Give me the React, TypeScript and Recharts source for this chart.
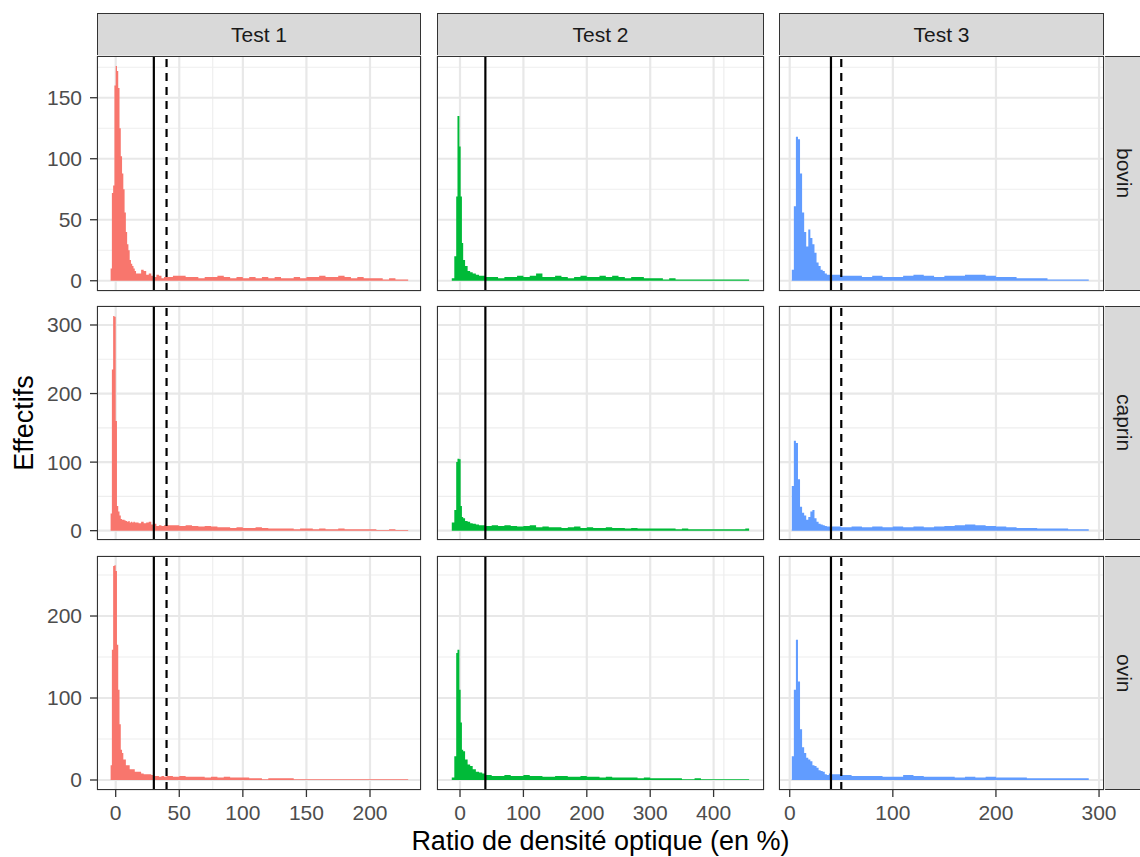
import React from "react";
import {
  ComposedChart,
  Area,
  XAxis,
  YAxis,
  CartesianGrid,
  ReferenceLine,
} from "recharts";

// facettes
const tests = ["Test 1", "Test 2", "Test 3"];
const especes = ["bovin", "caprin", "ovin"];
const couleurs = ["#F8766D", "#00BA38", "#619CFF"];

// bornes des classes de l'histogramme, une liste par test
const bornesTest1 = [
  -4, -3, -2, -1, 0, 1, 2, 3, 4, 5, 6, 7, 8, 9, 10, 11, 12, 13, 14, 15, 16,
  18, 20, 22, 24, 26, 28, 30, 32, 34, 36, 38, 40,
  45, 50, 55, 60, 65, 70, 75, 80, 85, 90, 95, 100, 105, 110, 115, 120, 125,
  130, 135, 140, 145, 150, 155, 160, 165, 170, 175, 180, 185, 190, 195, 200,
  205, 210, 215, 220, 225, 230,
];
const bornesTest2 = [
  -13, -9, -6, -4, -1, 1, 3, 5, 8, 12, 16, 20, 25, 30, 35, 40,
  50, 60, 70, 80, 90, 100, 110, 120, 130, 140, 150, 160, 170, 180, 190, 200,
  210, 220, 230, 240, 250, 260, 270, 280, 290, 300, 310, 320, 330, 340, 350,
  360, 370, 380, 390, 400, 410, 420, 430, 440, 450, 456,
];
const bornesTest3 = [
  2, 4, 6, 8, 10, 12, 14, 16, 18, 20, 22, 24, 26, 28, 30, 32, 34, 36, 38, 40,
  50, 60, 70, 80, 90, 100, 110, 120, 130, 140, 150, 160, 170, 180, 190, 200,
  210, 220, 230, 240, 250, 260, 270, 280, 290,
];

// effectifs par classe
const test1Bovin = [
  10, 72, 78, 160, 176, 172, 158, 125, 102, 88, 75, 56, 40, 30, 25, 17, 14, 12, 10, 8,
  6, 6, 9, 8, 5, 6, 4, 3, 5, 4, 2, 3,
  3, 4, 4, 3, 3, 2, 3, 3, 4, 3, 2, 3, 2, 3, 2, 3, 2, 3, 2, 2,
  3, 2, 3, 3, 4, 3, 3, 4, 3, 2, 3, 2, 2, 2, 1, 2, 1, 1,
];
const test1Caprin = [
  25, 235, 313, 312, 160, 36, 28, 22, 17, 16, 16, 15, 14, 13, 14, 12, 13, 12, 13, 12,
  12, 11, 13, 11, 12, 13, 9, 10, 7, 8, 7, 8,
  8, 8, 7, 8, 7, 6, 7, 6, 5, 5, 4, 5, 4, 4, 5, 4, 3, 3, 3, 3,
  2, 3, 3, 2, 3, 2, 2, 3, 2, 2, 2, 2, 2, 1, 1, 2, 1, 1,
];
const test1Ovin = [
  18, 159, 261, 262, 255, 165, 110, 68, 37, 33, 25, 25, 18, 18, 18, 13, 13, 13, 13, 10,
  10, 10, 8, 7, 7, 7, 6, 5, 5, 4, 5, 4,
  5, 4, 5, 4, 4, 4, 3, 4, 3, 4, 3, 3, 3, 2, 2, 1, 2, 2, 2, 2,
  1, 1, 1, 1, 1, 1, 1, 1, 1, 1, 1, 1, 1, 1, 1, 1, 1, 1,
];
const test2Bovin = [
  2, 20, 69, 135, 110, 69, 31, 17, 12, 8, 7, 6, 5, 4, 4,
  3, 3, 2, 3, 3, 4, 3, 4, 6, 3, 3, 4, 3, 2, 3, 4, 3, 3, 4, 3, 4,
  3, 2, 3, 3, 2, 2, 2, 1, 2, 1, 1, 1, 1, 1, 1, 1, 1, 1, 1, 1, 1,
];
const test2Caprin = [
  12, 30, 100, 105, 104, 36, 20, 18, 14, 13, 11, 10, 9, 8, 8,
  7, 8, 7, 8, 7, 6, 7, 8, 5, 6, 5, 5, 4, 5, 6, 4, 5, 4, 4, 5, 4,
  4, 3, 4, 3, 3, 3, 3, 3, 3, 2, 3, 2, 2, 2, 2, 2, 2, 2, 2, 2, 3,
];
const test2Ovin = [
  3, 29, 155, 159, 110, 70, 37, 35, 25, 19, 17, 13, 10, 9, 8,
  6, 5, 5, 6, 5, 5, 6, 5, 5, 4, 4, 5, 5, 4, 4, 5, 4, 4, 3, 4, 3,
  3, 3, 3, 2, 3, 2, 2, 2, 2, 2, 1, 1, 2, 1, 1, 1, 1, 1, 1, 1, 1,
];
const test3Bovin = [
  9, 61, 118, 116, 88, 56, 40, 28, 42, 35, 30, 23, 15, 12, 9, 8, 6, 5, 5,
  5, 4, 4, 3, 4, 3, 3, 4, 5, 4, 3, 4, 4, 5, 5, 4, 3, 3, 2, 2, 2, 1, 1, 1, 1,
];
const test3Caprin = [
  65, 131, 128, 75, 35, 26, 22, 16, 20, 28, 30, 18, 13, 10, 9, 8, 7, 6, 6,
  6, 5, 6, 5, 6, 5, 6, 5, 6, 5, 6, 7, 8, 9, 8, 7, 6, 5, 4, 4, 3, 3, 3, 2, 2,
];
const test3Ovin = [
  29, 110, 171, 120, 62, 40, 33, 27, 25, 23, 18, 17, 15, 12, 11, 10, 7, 6, 8,
  7, 6, 5, 5, 5, 4, 4, 6, 5, 4, 4, 4, 3, 4, 3, 4, 3, 3, 3, 2, 2, 2, 2, 2, 2,
];

// seuils de positivité
const seuilsPleins = [30, 40, 40];
const seuilsPointilles: (number | null)[] = [40, null, 50];

// graduations
const xTicks = [[0, 50, 100, 150, 200], [0, 100, 200, 300, 400], [0, 100, 200, 300]];
const xMinor = [[25, 75, 125, 175, 225], [50, 150, 250, 350, 450], [50, 150, 250]];
const yTicks = [[0, 50, 100, 150], [0, 100, 200, 300], [0, 100, 200]];
const yMinor = [[25, 75, 125, 175], [50, 150, 250], [50, 150, 250]];

const bornes = [bornesTest1, bornesTest2, bornesTest3];
const effectifs = [
  [test1Bovin, test2Bovin, test3Bovin],
  [test1Caprin, test2Caprin, test3Caprin],
  [test1Ovin, test2Ovin, test3Ovin],
];

// mise en page
const FONT = '"Liberation Sans", Arial, Helvetica, sans-serif';
const colLeft = [97, 437, 779];
const colWidth = [324, 327, 325];
const rowTop = [56, 306, 556];
const rowHeight = [235, 234, 234];
const xDomains: [number, number][] = [[-14.7, 240.1], [-36.3, 479.5], [-10.4, 304.8]];
const yDomains: [number, number][] = [[-8.4, 184.2], [-13.6, 327.7], [-12.2, 273.2]];
const BORDER = "1.3px solid #333333";
const STRIP = "#D9D9D9";
const PAD = 24;

function Panel({ row, col }: { row: number; col: number }) {
  const isLeft = col === 0;
  const isBottom = row === 2;
  const yAxisW = isLeft ? 97 : 0;
  const xAxisH = isBottom ? 60 : 0;
  const w = colWidth[col] + yAxisW + 2 * PAD;
  const h = rowHeight[row] + xAxisH + 2 * PAD;
  const counts = effectifs[row][col];
  const data = bornes[col].map((x, i) => ({
    x,
    n: counts[Math.min(i, counts.length - 1)],
  }));
  const tickStyle = { fill: "#4D4D4D", fontSize: 21, fontFamily: FONT };
  const dashed = seuilsPointilles[col];

  return (
    <div
      style={{
        position: "absolute",
        left: colLeft[col] - yAxisW - PAD,
        top: rowTop[row] - PAD,
        width: w,
        height: h,
      }}
    >
      <ComposedChart
        width={w}
        height={h}
        data={data}
        margin={{ top: PAD, right: PAD, bottom: PAD, left: PAD }}
      >
        <XAxis
          xAxisId="minor"
          type="number"
          domain={xDomains[col]}
          ticks={xMinor[col]}
          allowDataOverflow
          hide
        />
        <YAxis
          yAxisId="minor"
          type="number"
          domain={yDomains[row]}
          ticks={yMinor[row]}
          allowDataOverflow
          hide
        />
        <XAxis
          type="number"
          dataKey="x"
          domain={xDomains[col]}
          ticks={xTicks[col]}
          interval={0}
          allowDataOverflow
          hide={!isBottom}
          height={xAxisH || 1}
          axisLine={false}
          tickLine={{ stroke: "#333333", strokeWidth: 1.3 }}
          tickSize={7}
          tickMargin={8}
          tick={tickStyle}
        />
        <YAxis
          type="number"
          domain={yDomains[row]}
          ticks={yTicks[row]}
          interval={0}
          allowDataOverflow
          hide={!isLeft}
          width={yAxisW || 1}
          axisLine={false}
          tickLine={{ stroke: "#333333", strokeWidth: 1.3 }}
          tickSize={7}
          tickMargin={8}
          tick={tickStyle}
        />
        <CartesianGrid
          xAxisId="minor"
          yAxisId="minor"
          stroke="#EEEEEE"
          strokeWidth={1.2}
        />
        <CartesianGrid stroke="#E8E8E8" strokeWidth={2.2} />
        <Area
          type="stepAfter"
          dataKey="n"
          fill={couleurs[col]}
          fillOpacity={1}
          stroke="none"
          baseValue={0}
          dot={false}
          activeDot={false}
          isAnimationActive={false}
        />
        <ReferenceLine x={seuilsPleins[col]} stroke="#000000" strokeWidth={2.2} />
        {dashed !== null && (
          <ReferenceLine
            x={dashed}
            stroke="#000000"
            strokeWidth={2.2}
            strokeDasharray="8 6"
          />
        )}
      </ComposedChart>
      <div
        style={{
          position: "absolute",
          left: yAxisW + PAD,
          top: PAD,
          width: colWidth[col],
          height: rowHeight[row],
          border: BORDER,
          boxSizing: "border-box",
          pointerEvents: "none",
        }}
      />
    </div>
  );
}

export default function App() {
  return (
    <div
      style={{
        position: "absolute",
        left: 0,
        top: 0,
        width: 1140,
        height: 857,
        overflow: "hidden",
        background: "#FFFFFF",
        fontFamily: FONT,
      }}
    >
      {tests.map((t, c) => (
        <div
          key={t}
          style={{
            position: "absolute",
            left: colLeft[c],
            top: 13,
            width: colWidth[c],
            height: 44,
            background: STRIP,
            border: BORDER,
            boxSizing: "border-box",
            display: "flex",
            alignItems: "center",
            justifyContent: "center",
            fontSize: 21,
            color: "#1A1A1A",
          }}
        >
          {t}
        </div>
      ))}
      {especes.map((e, r) => (
        <div
          key={e}
          style={{
            position: "absolute",
            left: 1104,
            top: rowTop[r],
            width: 42,
            height: rowHeight[r],
            background: STRIP,
            border: BORDER,
            boxSizing: "border-box",
            display: "flex",
            alignItems: "center",
            justifyContent: "center",
            fontSize: 21,
            color: "#1A1A1A",
          }}
        >
          <span style={{ writingMode: "vertical-rl", marginLeft: -2 }}>{e}</span>
        </div>
      ))}
      {especes.map((e, r) =>
        tests.map((t, c) => <Panel key={e + t} row={r} col={c} />)
      )}
      <div
        style={{
          position: "absolute",
          left: 24,
          top: 423,
          transform: "translate(-50%, -50%) rotate(-90deg)",
          fontSize: 27,
          color: "#000000",
          whiteSpace: "nowrap",
        }}
      >
        Effectifs
      </div>
      <div
        style={{
          position: "absolute",
          left: 97,
          width: 1007,
          top: 826,
          textAlign: "center",
          fontSize: 27,
          color: "#000000",
          whiteSpace: "nowrap",
        }}
      >
        Ratio de densité optique (en %)
      </div>
    </div>
  );
}
